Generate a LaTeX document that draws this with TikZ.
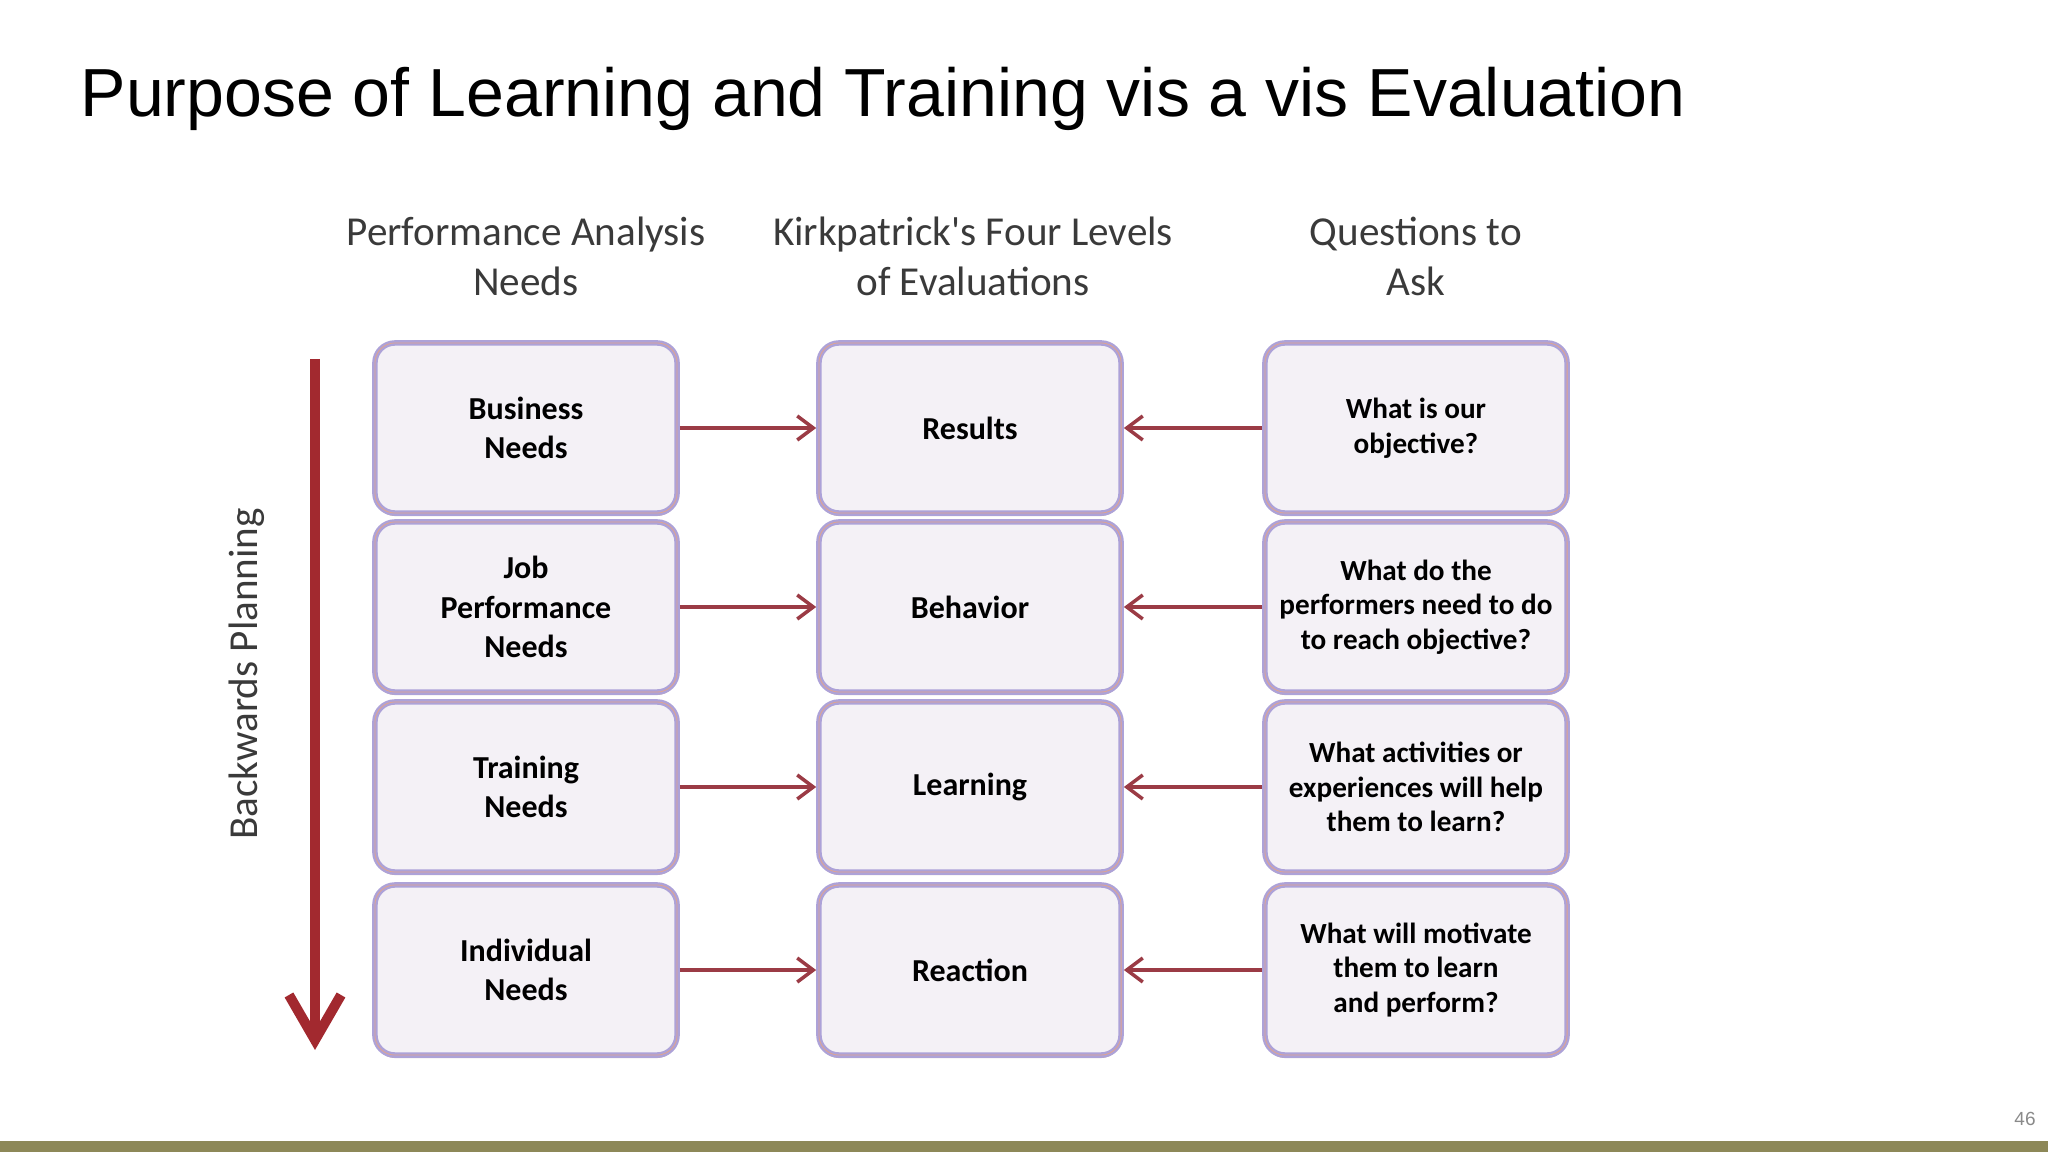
\documentclass[tikz,border=0pt]{standalone}
\usepackage{fontspec}
\setmainfont{Liberation Sans}
\newfontfamily\diagfont{Carlito}
\usetikzlibrary{arrows.meta,shadows}
\definecolor{ArrowRed}{HTML}{9B3B45}
\definecolor{BigRed}{HTML}{A2292F}
\definecolor{BoxFill}{HTML}{F4F1F6}
\definecolor{BoxGlow}{HTML}{ADA2D8}
\definecolor{BoxLine}{HTML}{E2A48E}
\definecolor{BoxShade}{HTML}{9A7488}
\definecolor{HeadGray}{HTML}{3A3A3A}
\definecolor{BarOlive}{HTML}{8D8858}
\definecolor{PageGray}{HTML}{8A8A8A}
\tikzset{
    block/.style = {draw=BoxGlow, line width=0.055cm, fill=BoxFill,
        rounded corners=0.2cm,
        minimum width=3.02cm,
        minimum height=1.70cm, align=center,
        font=\diagfont\bfseries\fontsize{9.1}{11.2}\selectfont,
        drop shadow={shadow xshift=0cm, shadow yshift=-0.03cm, fill=BoxShade, opacity=.6},
        postaction={draw=BoxLine, line width=0.008cm}},
    askblock/.style = {block, font=\diagfont\bfseries\fontsize{8.3}{9.8}\selectfont},
    colhead/.style = {align=center, text=HeadGray,
        font=\diagfont\fontsize{11.7}{14.2}\selectfont},
    arrow/.style = {draw=ArrowRed, line width=0.035cm,
        -{Straight Barb[length=0.16cm,width=0.24cm]}},
    planarrow/.style = {draw=BigRed, line width=0.1cm,
        -{Straight Barb[length=0.45cm,width=0.52cm]}}
}

\begin{document}
\begin{tikzpicture}[x=0.01cm, y=-0.01cm]
    \useasboundingbox (0,0) rectangle (2048,1152);
    \fill[BarOlive] (0,1141) rectangle (2048,1152);
    \node[anchor=base west, inner sep=0pt, font=\fontsize{19.35}{23}\selectfont] (title) at (80,117) {Purpose of Learning and Training vis a vis Evaluation};
    \node[text=PageGray, inner sep=0pt, font=\fontsize{5.4}{6}\selectfont] (page) at (2025,1119) {46};

    % column heads
    \node[colhead] (hneeds) at (526,256) {Performance Analysis\\Needs};
    \node[colhead] (hlevels) at (973,256) {Kirkpatrick's Four Levels\\of Evaluations};
    \node[colhead] (hask) at (1416,256) {Questions to\\Ask};

    % needs
    \node[block] (bus) at (526,428) {Business\\Needs};
    \node[block] (job) at (526,607) {Job\\Performance\\Needs};
    \node[block] (trn) at (526,787) {Training\\Needs};
    \node[block] (ind) at (526,970) {Individual\\Needs};

    % levels
    \node[block] (res) at (970,428) {Results};
    \node[block] (beh) at (970,607) {Behavior};
    \node[block] (lrn) at (970,787) {Learning};
    \node[block] (rea) at (970,970) {Reaction};

    % questions
    \node[askblock] (q1) at (1416,428) {What is our\\objective?};
    \node[askblock] (q2) at (1416,607) {What do the\\performers need to do\\to reach objective?};
    \node[askblock] (q3) at (1416,787) {What activities or\\experiences will help\\them to learn?};
    \node[askblock] (q4) at (1416,970) {What will motivate\\them to learn\\and perform?};

    \draw[arrow] (bus) -- (res);
    \draw[arrow] (job) -- (beh);
    \draw[arrow] (trn) -- (lrn);
    \draw[arrow] (ind) -- (rea);
    \draw[arrow] (q1) -- (res);
    \draw[arrow] (q2) -- (beh);
    \draw[arrow] (q3) -- (lrn);
    \draw[arrow] (q4) -- (rea);

    % backwards planning
    \coordinate (plantop) at (315,359);
    \coordinate (planend) at (315,1050);
    \draw[planarrow] (plantop) -- (planend);
    \node[colhead, rotate=90] (plan) at (247,674) {Backwards Planning};
\end{tikzpicture}
\end{document}
